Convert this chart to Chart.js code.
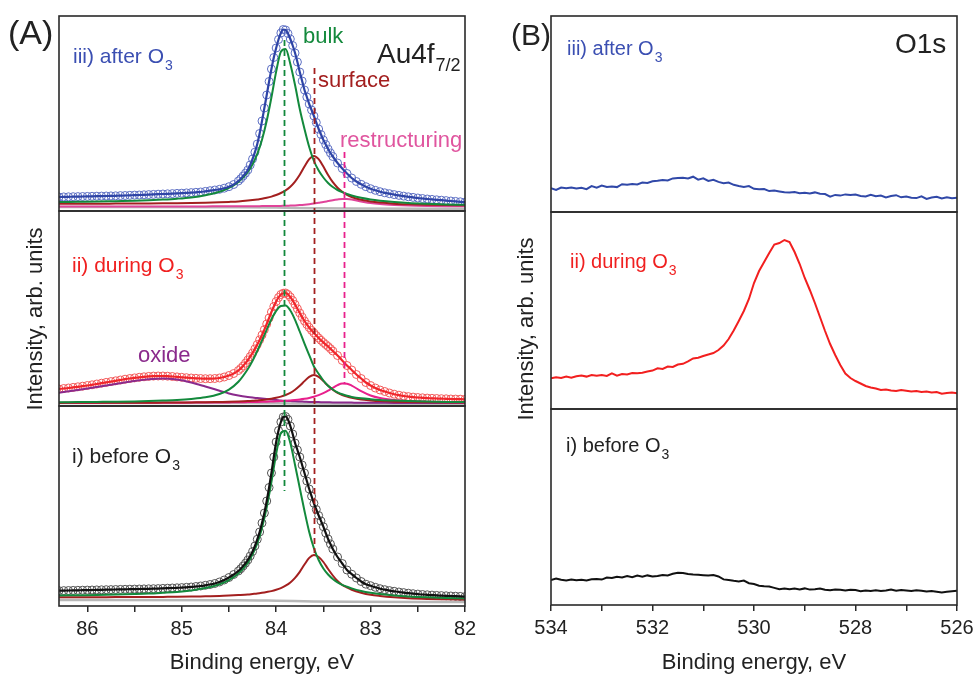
<!DOCTYPE html>
<html><head><meta charset="utf-8">
<script src="https://cdn.jsdelivr.net/npm/chart.js@4.4.1/dist/chart.umd.min.js"></script>
<style>
html,body{margin:0;padding:0;background:#fff;}
#wrap{position:relative;width:976px;height:675px;overflow:hidden;background:#fff;}
canvas{position:absolute;top:0;}
</style></head><body>
<div id="wrap">
<canvas id="cA" width="488" height="675" style="left:0;width:488px;height:675px"></canvas>
<canvas id="cB" width="488" height="675" style="left:488px;width:488px;height:675px"></canvas>
</div>
<script>
// ---------- Panel (A): Au4f7/2 ----------
const beA = [86.3,86.25,86.2,86.15,86.1,86.05,86,85.95,85.9,85.85,85.8,85.75,85.7,85.65,85.6,85.55,85.5,85.45,85.4,85.35,85.3,85.25,85.2,85.15,85.1,85.05,85,84.95,84.9,84.85,84.8,84.75,84.7,84.65,84.6,84.55,84.5,84.45,84.4,
  84.375,84.35,84.325,84.3,84.275,84.25,84.225,84.2,84.175,84.15,84.125,84.1,84.075,84.05,84.025,84,83.975,83.95,83.925,83.9,83.875,83.85,83.825,83.8,83.775,83.75,83.725,83.7,83.675,83.65,83.625,83.6,83.575,83.55,83.525,83.5,83.475,83.45,83.425,83.4,
  83.35,83.3,83.25,83.2,83.15,83.1,83.05,83,82.95,82.9,82.85,82.8,82.75,82.7,82.65,82.6,82.55,82.5,82.45,82.4,82.35,82.3,82.25,82.2,82.15,82.1,82.05,82];
const auAfter = [14.0,14.1,14.2,14.3,14.4,14.5,14.6,14.7,14.8,14.9,15.0,15.1,15.2,15.4,15.5,15.7,15.9,16.0,16.2,16.4,16.6,16.8,17.0,17.2,17.4,17.6,17.8,18.1,18.4,18.7,19.0,19.6,20.3,21.0,21.7,22.8,24.3,26.5,30.0,
  32.3,35.0,37.8,41.0,46.0,52.0,58.8,67.0,77.5,90.0,103.0,116.0,129.5,142.0,153.5,163.0,171.5,178.0,181.5,181.0,177.5,172.0,165.5,158.0,149.0,139.0,130.0,121.0,114.0,107.0,101.0,95.0,88.5,82.0,76.5,71.0,66.5,62.0,58.0,54.5,
  48.0,42.5,37.5,33.0,29.5,26.7,24.3,22.3,20.7,19.3,18.2,17.3,16.4,15.6,14.9,14.2,13.6,13.0,12.5,12.0,11.6,11.2,10.8,10.4,10.0,9.6,9.2,8.8];
const auDuring = [17.0,17.5,18.0,18.6,19.2,19.8,20.5,21.2,22.0,22.8,23.6,24.4,25.2,26.0,26.8,27.5,28.1,28.7,29.2,29.6,29.9,30.0,30.0,29.8,29.5,29.1,28.7,28.3,28.0,27.7,27.5,27.3,27.3,27.5,28.0,29.0,30.5,32.5,35.5,
  37.6,40.0,42.9,46.0,49.4,53.0,57.1,61.5,66.1,71.0,76.4,82.0,88.0,94.0,99.5,104.5,108.5,111.5,112.8,113.0,111.5,109.0,105.5,101.5,97.2,93.0,88.9,85.0,81.6,78.5,75.6,73.0,70.4,68.0,65.7,63.5,61.5,59.5,57.3,55.0,
  50.5,45.5,40.5,36.0,31.5,27.5,23.5,20.5,18.0,16.0,14.5,13.0,11.8,10.8,10.0,9.4,8.9,8.5,8.2,7.9,7.7,7.5,7.3,7.2,7.0,6.9,6.8,6.7];
const auBefore = [15.3,15.4,15.5,15.6,15.7,15.8,15.9,16.0,16.1,16.2,16.3,16.4,16.5,16.6,16.7,16.8,16.9,17.0,17.1,17.2,17.3,17.4,17.6,17.8,18.0,18.2,18.4,18.7,19.0,19.5,20.0,20.7,21.5,22.5,24.0,26.0,28.5,31.5,35.0,
  37.3,40.0,42.8,46.0,50.0,54.5,60.0,66.7,74.0,83.0,93.0,105.0,118.5,133.0,149.0,164.0,175.5,184.0,189.0,189.5,186.5,180.0,172.0,163.0,156.0,149.0,141.0,133.0,125.0,117.0,109.8,102.7,96.5,90.5,85.0,79.3,73.0,67.0,62.0,57.0,
  49.0,42.5,36.0,31.8,28.0,24.5,21.8,20.3,18.7,17.3,16.3,15.4,14.7,14.0,13.4,12.8,12.3,11.9,11.5,11.2,10.9,10.6,10.4,10.2,10.0,9.8,9.6,9.4];

const compBE = [86.3,86.1,85.9,85.7,85.5,85.35,85.2,85.05,84.9,84.75,84.6,84.5,84.4,84.3,84.25,84.2,84.15,84.1,84.05,84.0,83.95,83.9,83.85,83.8,83.75,83.7,83.65,83.6,83.55,83.5,83.45,83.4,83.35,83.3,83.25,83.2,83.1,83.0,82.9,82.75,82.6,82.4,82.2,82.0];
const bulkAfter = [9.0,9.2,9.4,9.8,10.2,10.7,11.4,12.3,13.6,15.8,19.3,23.1,29.1,39.2,46.8,57.1,71.3,90.2,113.7,139.4,159.3,162.0,147,126,102,82,64,50,40.5,33.5,28,24,21,18.8,17,15.5,13.2,11.5,10.3,9.0,8.0,7.2,6.6,6.2];
const surfAfter = [7.2,7.3,7.3,7.4,7.5,7.6,7.7,7.8,8.0,8.3,8.7,9.1,9.6,10.4,10.9,11.5,12.2,13.2,14.4,16.0,18.0,20.6,24.3,29.4,36.2,44.4,51.8,55.0,51.8,44.4,36.0,28.8,23.3,19.2,16.2,14.0,11.2,9.5,8.4,7.3,6.7,6.2,5.9,5.7];
const restrAfter = [4.5,4.5,4.5,4.6,4.6,4.6,4.6,4.6,4.6,4.6,4.7,4.7,4.7,4.8,4.8,4.8,4.9,4.9,5.0,5.0,5.1,5.2,5.4,5.6,5.9,6.3,6.8,7.4,8.2,9.0,9.9,10.8,11.5,12.0,11.9,11.4,9.6,7.9,6.9,6.0,5.4,5.0,4.8,4.7];
const bulkDuring = [3.7,3.9,4.1,4.3,4.6,5.0,5.5,6.1,7.1,8.7,12.0,16.4,24.2,37.0,45.3,55.0,65.5,76.4,86.8,95.2,100.0,100.5,95.5,86.2,74.5,62.4,50.9,39.5,32.3,25.5,20.3,16.5,13.7,11.7,10.2,9.1,7.7,6.8,6.1,5.4,4.9,4.4,4.1,3.9];
const surfDuring = [3.1,3.2,3.2,3.2,3.3,3.3,3.4,3.5,3.6,3.7,4.0,4.2,4.5,4.9,5.2,5.6,6.0,6.5,7.2,8.2,9.4,11.0,13.2,16.3,20.2,24.9,29.2,31.0,29.2,24.9,20.2,16.3,13.2,11.0,9.4,8.2,6.5,5.6,4.9,4.3,4.0,3.7,3.5,3.4];
const restrDuring = [3.1,3.1,3.1,3.2,3.2,3.2,3.3,3.3,3.4,3.4,3.5,3.6,3.7,3.9,4.0,4.1,4.2,4.3,4.5,4.7,4.9,5.2,5.6,6.0,6.5,7.2,8.1,9.3,10.9,12.9,15.3,18.2,20.9,22.5,22.3,20.4,14.8,10.5,7.9,5.9,4.9,4.2,3.8,3.6];
const oxideDuring = [13.3,16.0,19.0,22.0,25.0,26.8,27.6,26.5,23.5,19.5,15.3,12.5,10.5,9.0,8.4,7.9,7.4,6.9,6.4,6.0,5.5,5.2,5.0,4.7,4.5,4.3,4.1,4.0,3.9,3.8,3.7,3.6,3.55,3.5,3.45,3.4,3.3,3.25,3.2,3.1,3.1,3.0,3.0,3.0];
const bulkBefore = [10.6,10.8,11.0,11.4,11.9,12.4,13.2,14.1,15.6,17.9,21.7,25.9,32.4,43.3,51.6,62.7,78.1,98.6,124.1,152.0,172.9,175.3,163,141,118,95,74,57.7,46,37.5,31.5,27,23.7,21.2,19.3,17.6,15.0,13.2,12.0,10.6,9.6,8.7,8.1,7.7];
const surfBefore = [8.7,8.8,8.8,8.9,8.9,9.0,9.1,9.2,9.4,9.7,10.0,10.4,10.9,11.5,12.0,12.5,13.2,14.0,14.9,16.2,17.9,20.3,23.6,28.2,34.2,41.5,48.1,51.0,49.0,44.0,37.0,30.5,25.0,21.0,18.5,16.3,13.3,11.2,10.0,8.7,7.8,7.1,6.7,6.4];
const bgBE = [86.3,84.4,84.0,83.6,83.2,82.0];
const bgAfter = [4.0,3.8,3.4,2.8,2.4,2.2];
const bgDuring = [3.0,2.9,2.7,2.4,2.2,2.1];
const bgBefore = [6.0,5.8,5.3,4.6,4.2,4.0];
const tickLabelsA = [86,85,84,83,82];
const peakBulk = 83.92, peakSurface = 83.6, peakRestr = 83.28;

// ---------- Panel (B): O1s ----------
const beB = [534,533.9,533.8,533.7,533.6,533.5,533.4,533.3,533.2,533.1,533,532.9,532.8,532.7,532.6,532.5,532.4,532.3,532.2,532.1,532,531.9,531.8,531.7,531.6,531.5,531.4,531.3,531.2,531.1,531,530.9,530.8,530.7,530.6,530.5,530.4,530.3,530.2,530.1,530,529.9,529.8,529.7,529.6,529.5,529.4,529.3,529.2,529.1,529,528.9,528.8,528.7,528.6,528.5,528.4,528.3,528.2,528.1,528,527.9,527.8,527.7,527.6,527.5,527.4,527.3,527.2,527.1,527,526.9,526.8,526.7,526.6,526.5,526.4,526.3,526.2,526.1,526];
const o1sAfter = [23.7,22.0,24.5,23.8,24.6,23.5,24.2,22.8,25.9,24.4,26.5,25.0,25.6,24.9,27.8,27.2,28.0,27.5,29.4,29.0,30.8,31.2,32.0,31.5,33.6,33.9,34.2,33.6,35.3,32.4,33.6,31.0,32.2,30.1,28.7,29.5,27.2,26.0,25.1,25.9,23.2,22.7,23.0,20.9,21.4,20.6,19.8,19.5,19.9,18.8,19.2,18.5,19.6,18.2,18.0,15.4,17.1,16.4,17.6,17.0,17.4,16.1,15.5,17.3,15.8,16.5,14.6,15.9,16.8,14.7,15.5,14.2,13.9,15.6,13.0,14.4,15.2,13.5,14.8,13.8,14.3];
const o1sDuring = [30.7,31.8,31.0,32.5,31.2,32.8,33.5,32.4,34.0,33.2,33.9,33.0,35.6,33.4,35.0,34.6,35.9,35.8,36.2,37.5,38.4,40.7,40.0,42.4,42.0,44.5,45.2,47.6,50.5,51.2,53.0,54.5,56.0,59.0,63.5,70.0,78.5,88.0,98.0,110.0,126.0,138.0,147.0,156.0,164.5,166.0,169.0,167.0,157.0,145.0,131.0,119.0,106.0,92.0,78.0,65.0,54.0,44.0,35.5,31.0,28.0,25.5,23.0,21.5,20.5,19.0,19.5,18.5,18.0,19.0,18.3,17.5,18.0,17.0,17.4,16.5,17.0,15.2,16.0,16.5,15.7];
const o1sBefore = [25.0,26.5,25.2,24.6,25.5,24.8,25.3,24.5,25.7,26.0,25.4,27.5,27.0,28.2,27.6,29.0,27.8,29.4,28.3,29.6,28.5,29.0,30.1,29.6,31.2,32.3,32.0,31.0,30.5,30.2,29.8,29.5,29.9,28.5,25.6,25.0,24.2,23.6,24.4,21.8,21.0,19.3,18.7,18.4,17.1,15.8,16.5,15.7,16.4,15.5,16.6,15.4,15.8,16.4,15.3,14.8,15.6,15.2,14.4,15.3,14.9,13.8,14.4,14.0,14.7,13.9,14.5,15.5,14.3,15.1,14.6,13.9,14.8,14.2,13.4,13.9,13.3,12.6,13.2,13.8,14.3];
const tickLabelsB = [534,532,530,528,526];

// ---------- helpers ----------
const FONT = "'Liberation Sans', Arial, Helvetica, sans-serif";
Chart.defaults.font.family = FONT;
Chart.defaults.color = '#222';
const pts = (xs, ys) => ys.map((y, i) => ({x: xs[i], y}));
function line(xs, ys, axis, color, width, smooth) {
  return {data: pts(xs, ys), yAxisID: axis, borderColor: color, borderWidth: width || 2,
    pointRadius: 0, fill: false, cubicInterpolationMode: smooth === false ? 'default' : 'monotone', tension: 0};
}
function circles(xs, ys, axis, color) {
  return {data: pts(xs, ys), yAxisID: axis, showLine: false, borderColor: color, backgroundColor: 'rgba(0,0,0,0)',
    pointRadius: 4, pointBorderWidth: 1, pointStyle: 'circle', pointBackgroundColor: 'rgba(0,0,0,0)', pointBorderColor: color};
}
function drawLabel(ctx, o) {
  ctx.save();
  ctx.textAlign = 'left'; ctx.textBaseline = 'alphabetic';
  ctx.fillStyle = o.color;
  ctx.font = o.size + 'px ' + FONT;
  ctx.fillText(o.text, o.x, o.y);
  if (o.sub) {
    const w = ctx.measureText(o.text).width;
    ctx.font = o.subSize + 'px ' + FONT;
    ctx.fillText(o.sub, o.x + w + (o.subGap || 1), o.y + o.subDrop);
  }
  ctx.restore();
}
function drawYTitle(ctx, text, cx, cy) {
  ctx.save();
  ctx.translate(cx, cy); ctx.rotate(-Math.PI / 2);
  ctx.textAlign = 'center'; ctx.textBaseline = 'middle';
  ctx.fillStyle = '#222'; ctx.font = '22px ' + FONT;
  ctx.fillText(text, 0, 0);
  ctx.restore();
}
function frames(chart, ids) {
  const ctx = chart.ctx, ca = chart.chartArea;
  ctx.save();
  ctx.strokeStyle = '#2a2a2a'; ctx.lineWidth = 1.6;
  ids.forEach(id => {
    const s = chart.scales[id];
    ctx.strokeRect(ca.left, s.top, ca.right - ca.left, s.bottom - s.top);
  });
  ctx.restore();
}
function xAxis(min, max, step, labels, h) {
  return {type: 'linear', reverse: true, min, max, position: 'bottom',
    ticks: {stepSize: step, includeBounds: false, autoSkip: false, maxRotation: 0, font: {size: 20, lineHeight: 1.5}, color: '#222', padding: 2,
      callback: v => labels.some(l => Math.abs(l - v) < 1e-6) ? String(Math.round(v)) : ''},
    grid: {drawOnChartArea: false, drawTicks: true, tickLength: 6, color: '#2a2a2a', lineWidth: 1.5},
    border: {display: false},
    title: {display: true, text: 'Binding energy, eV', font: {size: 22}, color: '#222', padding: {top: 0, bottom: -1}},
    afterFit: s => { s.height = h; }};
}
const yAxis = (max, weight, order) => ({type: 'linear', display: false, min: 0, max, stack: 'p', stackWeight: weight, weight: order});

// ---------- chart A ----------
const C = {blue: '#2e44a6', blueC: '#5e70c4', red: '#f0262b', redC: '#f35a5a', black: '#111111', blackC: '#555555',
  green: '#13893c', dred: '#a31f1f', pink: '#e0449a', pink2: '#e8208c', purple: '#8a2a8c', grey: '#b8b8b8'};

const decorA = {
  id: 'decorA',
  afterDraw(chart) {
    const ctx = chart.ctx, xs = chart.scales.x, S = chart.scales;
    const dashed = [
      {e: peakBulk, color: C.green, from: ['yA3', 171], to: ['yA1', 115]},
      {e: peakSurface, color: C.dred, from: ['yA3', 143], to: ['yA1', 53]},
      {e: peakRestr, color: C.pink2, from: ['yA3', 59], to: ['yA2', 23]}
    ];
    ctx.save();
    ctx.setLineDash([6, 4]); ctx.lineWidth = 1.8;
    dashed.forEach(d => {
      const px = Math.round(xs.getPixelForValue(d.e)) + 0.5;
      ctx.strokeStyle = d.color;
      ctx.beginPath();
      ctx.moveTo(px, S[d.from[0]].getPixelForValue(d.from[1]));
      ctx.lineTo(px, S[d.to[0]].getPixelForValue(d.to[1]));
      ctx.stroke();
    });
    ctx.restore();
    frames(chart, ['yA3', 'yA2', 'yA1']);
    [
      {text: '(A)', x: 8, y: 44, size: 34, color: '#222'},
      {text: 'Au4f', x: 377, y: 63, size: 28, color: '#222', sub: '7/2', subSize: 18, subDrop: 8},
      {text: 'iii) after O', x: 73, y: 63, size: 21, color: '#3b4fb2', sub: '3', subSize: 14, subDrop: 7},
      {text: 'bulk', x: 303, y: 43, size: 22, color: C.green},
      {text: 'surface', x: 318, y: 87, size: 22, color: C.dred},
      {text: 'restructuring', x: 340, y: 147, size: 22, color: '#e0559f'},
      {text: 'ii) during O', x: 72, y: 272, size: 21, color: '#f02020', sub: '3', subSize: 14, subDrop: 7},
      {text: 'oxide', x: 138, y: 362, size: 22, color: C.purple},
      {text: 'i) before O', x: 72, y: 463, size: 21, color: '#222', sub: '3', subSize: 14, subDrop: 7}
    ].forEach(o => drawLabel(ctx, o));
    drawYTitle(ctx, 'Intensity, arb. units', 36, 319);
  }
};

new Chart(document.getElementById('cA'), {
  type: 'line',
  data: {datasets: [
    line(beA, auAfter, 'yA3', C.blue, 2.2),
    line(beA, auDuring, 'yA2', C.red, 2.2),
    line(beA, auBefore, 'yA1', C.black, 2.2),
    line(compBE, bulkAfter, 'yA3', C.green),
    line(compBE, surfAfter, 'yA3', C.dred),
    line(compBE, restrAfter, 'yA3', C.pink),
    line(compBE, bulkDuring, 'yA2', C.green),
    line(compBE, surfDuring, 'yA2', C.dred),
    line(compBE, restrDuring, 'yA2', C.pink2),
    line(compBE, oxideDuring, 'yA2', C.purple),
    line(compBE, bulkBefore, 'yA1', C.green),
    line(compBE, surfBefore, 'yA1', C.dred),
    circles(beA, auAfter, 'yA3', C.blueC),
    circles(beA, auDuring, 'yA2', C.redC),
    circles(beA, auBefore, 'yA1', C.blackC),
    line(bgBE, bgAfter, 'yA3', C.grey, 2.5),
    line(bgBE, bgDuring, 'yA2', C.grey, 2.5),
    line(bgBE, bgBefore, 'yA1', C.grey, 2.5)
  ]},
  options: {
    responsive: false, animation: false, events: [], devicePixelRatio: 1,
    layout: {padding: {left: 59, right: 23, top: 16, bottom: 0}},
    plugins: {legend: {display: false}, tooltip: {enabled: false}},
    scales: {
      x: xAxis(82, 86.3, 0.5, tickLabelsA, 69),
      yA3: yAxis(195, 195, 3),
      yA2: yAxis(195, 195, 2),
      yA1: yAxis(200, 200, 1)
    }
  },
  plugins: [decorA]
});

// ---------- chart B ----------
const decorB = {
  id: 'decorB',
  afterDraw(chart) {
    const ctx = chart.ctx;
    frames(chart, ['yB3', 'yB2', 'yB1']);
    [
      {text: '(B)', x: 23, y: 45, size: 30, color: '#222'},
      {text: 'O1s', x: 407, y: 53, size: 28, color: '#222'},
      {text: 'iii) after O', x: 79, y: 55, size: 20, color: '#3b4fb2', sub: '3', subSize: 14, subDrop: 7},
      {text: 'ii) during O', x: 82, y: 268, size: 20, color: '#f02020', sub: '3', subSize: 14, subDrop: 7},
      {text: 'i) before O', x: 78, y: 452, size: 20, color: '#222', sub: '3', subSize: 14, subDrop: 7}
    ].forEach(o => drawLabel(ctx, o));
    drawYTitle(ctx, 'Intensity, arb. units', 39, 329);
  }
};

new Chart(document.getElementById('cB'), {
  type: 'line',
  data: {datasets: [
    line(beB, o1sAfter, 'yB3', '#3048a8', 2, false),
    line(beB, o1sDuring, 'yB2', '#f21f1f', 2, false),
    line(beB, o1sBefore, 'yB1', '#111111', 2, false)
  ]},
  options: {
    responsive: false, animation: false, events: [], devicePixelRatio: 1,
    layout: {padding: {left: 63, right: 19, top: 16, bottom: 0}},
    plugins: {legend: {display: false}, tooltip: {enabled: false}},
    scales: {
      x: xAxis(526, 534, 1, tickLabelsB, 70),
      yB3: yAxis(196, 196, 3),
      yB2: yAxis(197, 197, 2),
      yB1: yAxis(196, 196, 1)
    }
  },
  plugins: [decorB]
});
</script>
</body></html>
